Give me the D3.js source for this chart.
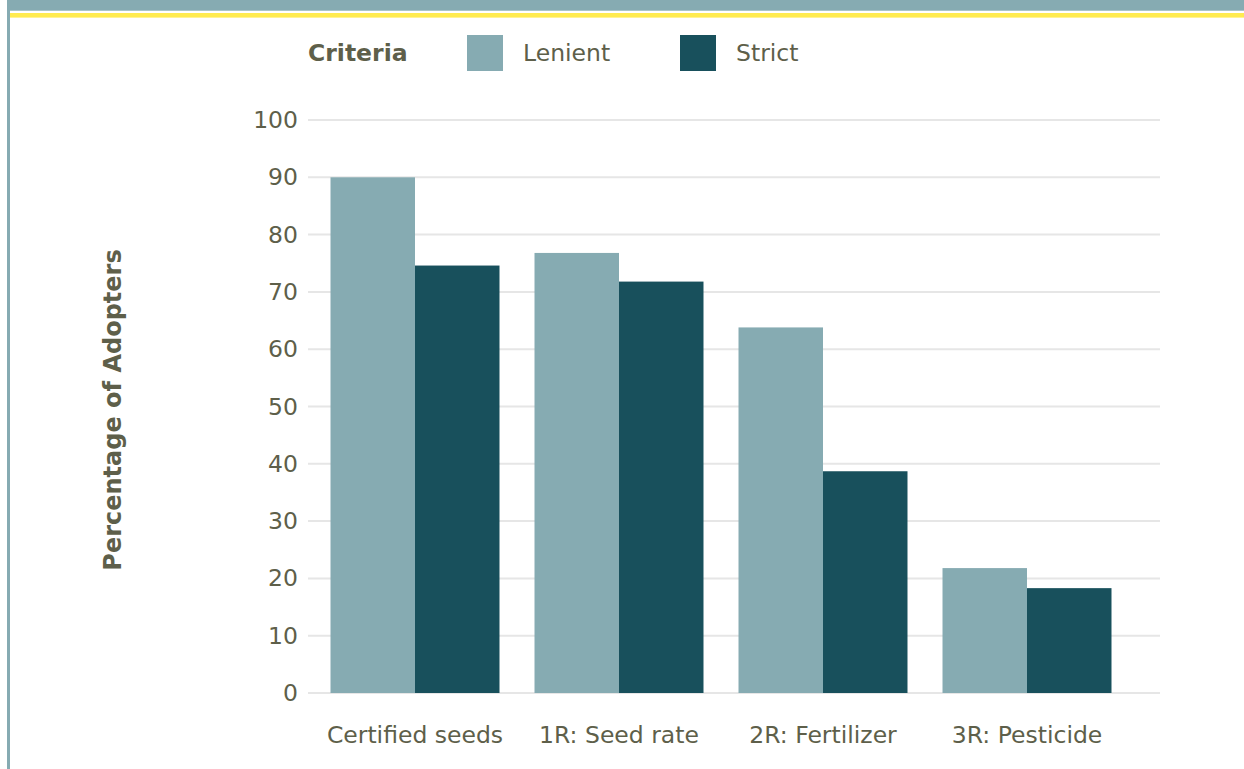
<!DOCTYPE html>
<html>
<head>
<meta charset="utf-8">
<script src="https://cdnjs.cloudflare.com/ajax/libs/d3/7.8.5/d3.min.js"></script>
<style>
  html, body { margin: 0; padding: 0; background: #fff; }
  svg { display: block; font-family: "DejaVu Sans", Verdana, sans-serif; }
</style>
</head>
<body>
<svg id="chart" width="1244" height="769"></svg>
<script>
// Adoption practices and share of adopters under each criterion
const categories = ["Certified seeds", "1R: Seed rate", "2R: Fertilizer", "3R: Pesticide"];
const seriesNames = ["Lenient", "Strict"];
const lenientValues = [90, 76.8, 63.8, 21.8];
const strictValues = [74.6, 71.8, 38.7, 18.3];
const yTicks = [0, 10, 20, 30, 40, 50, 60, 70, 80, 90, 100];
const legendTitle = "Criteria";
const yTitle = "Percentage of Adopters";

const colors = { Lenient: "#86abb2", Strict: "#18505c" };
const textColor = "#5e5f4a";
const fontSize = 23.5;

const svg = d3.select("#chart");

// Page frame: header band, yellow rule, left border
svg.append("rect").attr("x", 8).attr("y", 0).attr("width", 1236).attr("height", 10.7).attr("fill", "#86abb2");
svg.append("rect").attr("x", 10).attr("y", 13).attr("width", 1234).attr("height", 4.6).attr("fill", "#ffeb50");
svg.append("rect").attr("x", 7).attr("y", 0).attr("width", 3).attr("height", 769).attr("fill", "#86abb2");

const y = d3.scaleLinear().domain([0, 100]).range([693, 120]);
const x = d3.scaleBand().domain(categories).range([313, 1129])
  .paddingInner(0.1716).paddingOuter(0.0858);
const xs = d3.scaleBand().domain(seriesNames).range([0, x.bandwidth()]);

const gridLeft = 308, gridRight = 1160;

// Gridlines
svg.append("g").selectAll("line").data(yTicks).join("line")
  .attr("x1", gridLeft).attr("x2", gridRight)
  .attr("y1", d => y(d)).attr("y2", d => y(d))
  .attr("stroke", "#e6e6e6").attr("stroke-width", 2);

// Y axis tick labels
const yAxis = d3.axisLeft(y).tickValues(yTicks).tickSize(0).tickPadding(0);
const gy = svg.append("g").attr("transform", `translate(298,0)`).call(yAxis);
gy.select(".domain").remove();
gy.selectAll("text").attr("fill", textColor).attr("font-size", fontSize)
  .attr("font-family", "DejaVu Sans, Verdana, sans-serif");

// Bars
const rows = categories.map((c, i) => ({ category: c, Lenient: lenientValues[i], Strict: strictValues[i] }));
const groups = svg.append("g").selectAll("g").data(rows).join("g")
  .attr("transform", d => `translate(${x(d.category)},0)`);
groups.selectAll("rect")
  .data(d => seriesNames.map(s => ({ key: s, value: d[s] })))
  .join("rect")
  .attr("x", d => xs(d.key))
  .attr("width", xs.bandwidth())
  .attr("y", d => y(d.value))
  .attr("height", d => y(0) - y(d.value))
  .attr("fill", d => colors[d.key]);

// X axis category labels
const xAxis = d3.axisBottom(x).tickSize(0).tickPadding(0);
const gx = svg.append("g").attr("transform", `translate(0,735)`).call(xAxis);
gx.select(".domain").remove();
gx.selectAll("text").attr("fill", textColor).attr("font-size", fontSize)
  .attr("dy", "0.35em")
  .attr("font-family", "DejaVu Sans, Verdana, sans-serif");

// Y axis title
svg.append("text")
  .attr("transform", "translate(113,410) rotate(-90)")
  .attr("text-anchor", "middle").attr("dominant-baseline", "central")
  .attr("font-size", 24).attr("font-weight", "bold").attr("fill", textColor)
  .text(yTitle);

// Legend
const legend = svg.append("g");
legend.append("text").attr("x", 308).attr("y", 53).attr("dominant-baseline", "central")
  .attr("font-size", fontSize).attr("font-weight", "bold").attr("fill", textColor).text(legendTitle);
const legendX = { Lenient: 467, Strict: 680 };
seriesNames.forEach(s => {
  legend.append("rect").attr("x", legendX[s]).attr("y", 35).attr("width", 36).attr("height", 36)
    .attr("fill", colors[s]);
  legend.append("text").attr("x", legendX[s] + 56).attr("y", 53).attr("dominant-baseline", "central")
    .attr("font-size", fontSize).attr("fill", textColor).text(s);
});
</script>
</body>
</html>
